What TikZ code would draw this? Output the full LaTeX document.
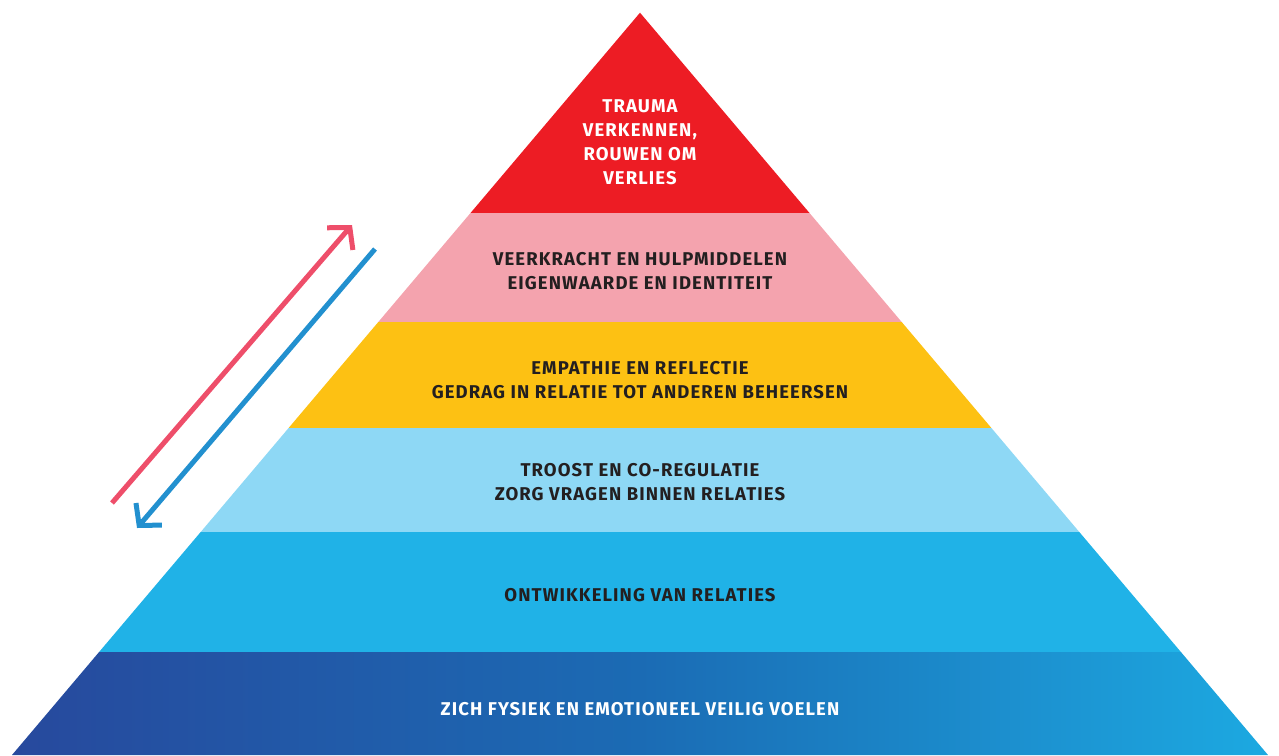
\documentclass[tikz,border=0pt]{standalone}
\usepackage{fontspec}
\setmainfont{Fira Sans}[LetterSpace=6.0]
\usetikzlibrary{arrows.meta}
\definecolor{cRed}{HTML}{ED1C24}
\definecolor{cPink}{HTML}{F4A3AE}
\definecolor{cYel}{HTML}{FDC113}
\definecolor{cLB}{HTML}{8ED8F5}
\definecolor{cBlue}{HTML}{20B2E7}
\definecolor{gL}{HTML}{27499D}
\definecolor{gM}{HTML}{1B6BB4}
\definecolor{gR}{HTML}{1CA9E1}
\definecolor{aRed}{HTML}{EE4E6A}
\definecolor{aBlue}{HTML}{2290CF}
\definecolor{txt}{HTML}{231F20}
\tikzset{
  lbl/.style={align=center, font=\fontsize{18.5}{24}\selectfont\bfseries, text=txt, inner sep=0pt},
  lblw/.style={lbl, text=white},
  arr/.style={line width=5pt, -{Straight Barb[length=15pt, width=34pt, line cap=butt]}}
}
\begin{document}
\begin{tikzpicture}[x=1pt,y=-1pt]
\useasboundingbox (0,0) rectangle (1279,755);
\fill[cRed] (640,12.7) -- (809.5,213) -- (470.5,213) -- cycle;
\fill[cPink] (470.5,213) -- (809.5,213) -- (901.7,322) -- (378.3,322) -- cycle;
\fill[cYel] (378.3,322) -- (901.7,322) -- (991.4,428) -- (288.6,428) -- cycle;
\fill[cLB] (288.6,428) -- (991.4,428) -- (1079.3,532) -- (200.7,532) -- cycle;
\fill[cBlue] (200.7,532) -- (1079.3,532) -- (1180.9,652) -- (99.1,652) -- cycle;
\begin{scope}
\clip (99.1,652) -- (1180.9,652) -- (1268,755) -- (12,755) -- cycle;
\shade[left color=gL, right color=gR, middle color=gM] (12,652) rectangle (1268,755);
\end{scope}
\node[lblw] (t1) at (640,142) {TRAUMA\\VERKENNEN,\\ROUWEN OM\\VERLIES};
\node[lbl] (t2) at (640,271.5) {VEERKRACHT EN HULPMIDDELEN\\EIGENWAARDE EN IDENTITEIT};
\node[lbl] (t3) at (640,380) {EMPATHIE EN REFLECTIE\\GEDRAG IN RELATIE TOT ANDEREN BEHEERSEN};
\node[lbl] (t4) at (640,482.5) {TROOST EN CO-REGULATIE\\ZORG VRAGEN BINNEN RELATIES};
\node[lbl] (t5) at (640,595) {ONTWIKKELING VAN RELATIES};
\node[lblw] (t6) at (640,709) {ZICH FYSIEK EN EMOTIONEEL VEILIG VOELEN};
\coordinate (r0) at (112,503);
\coordinate (r1) at (352,225);
\coordinate (b0) at (375,249);
\coordinate (b1) at (137,528);
\draw[arr, aRed] (r0) -- (r1);
\draw[arr, aBlue] (b0) -- (b1);
\end{tikzpicture}
\end{document}
